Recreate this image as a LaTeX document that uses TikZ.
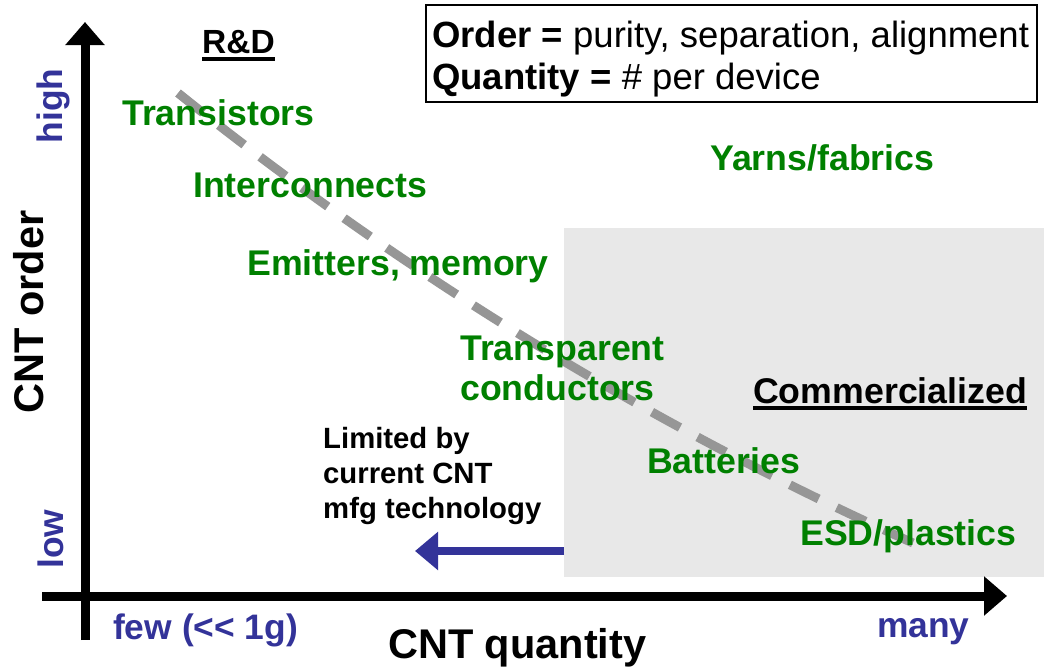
\documentclass[tikz,border=0pt]{standalone}
\usepackage{fontspec}
\setmainfont{Liberation Sans}
\usetikzlibrary{arrows.meta}
\definecolor{appgreen}{RGB}{0,128,0}
\definecolor{scaleblue}{RGB}{51,51,153}
\definecolor{marketgray}{RGB}{232,232,232}
\definecolor{trendgray}{RGB}{150,150,150}

\begin{document}
\begin{tikzpicture}[
  x=1pt, y=-1pt,
  app/.style={anchor=base west, inner sep=0pt, text=appgreen,
              font=\fontsize{35.7}{40}\selectfont\bfseries},
  stage/.style={anchor=base west, inner sep=0pt,
                font=\fontsize{35.7}{40}\selectfont\bfseries},
  note/.style={anchor=base west, inner sep=0pt,
               font=\fontsize{29.3}{35}\selectfont\bfseries},
  keyline/.style={anchor=base west, inner sep=0pt,
                  font=\fontsize{36.5}{42}\selectfont},
  tick/.style={inner sep=0pt, text=scaleblue,
               font=\fontsize{35.4}{40}\selectfont\bfseries},
  axislabel/.style={inner sep=0pt, font=\fontsize{41.5}{46}\selectfont\bfseries},
  axis/.style={line width=9pt, -{Triangle[length=23pt, width=38pt]}},
  trend/.style={trendgray, line width=9pt, dash pattern=on 32pt off 20pt},
]
  \useasboundingbox (0,0) rectangle (1044,670);

  % commercial region
  \node[fill=marketgray, anchor=north west, inner sep=0pt,
        minimum width=480pt, minimum height=349pt] (market) at (564,228) {};

  % order vs quantity trend
  \coordinate (trendhi) at (178,93);
  \coordinate (trendlo) at (913,543);
  \draw[trend] (trendhi) .. controls (405,275) and (650,425) .. (trendlo);

  % axes
  \coordinate (yfoot) at (85,640);
  \coordinate (ytip) at (85,22);
  \coordinate (xfoot) at (42,596);
  \coordinate (xtip) at (1007,596);
  \draw[axis] (yfoot) -- (ytip);
  \draw[axis] (xfoot) -- (xtip);

  \node[axislabel, rotate=90, anchor=base] (ylab) at (43,312) {CNT order};
  \node[axislabel, anchor=base west] (xlab) at (388,658) {CNT quantity};
  \node[tick, rotate=90, anchor=base] (yhigh) at (62,106) {high};
  \node[tick, rotate=90, anchor=base] (ylow) at (63,539) {low};
  \node[tick, anchor=base west] (xfew) at (113,639) {few (<\kern0pt< 1g)};
  \node[tick, anchor=base west] (xmany) at (877,637) {many};

  % legend box
  \draw[line width=1.5pt] (426,5) rectangle (1037,102);
  \node[keyline] (key1) at (432,47) {\textbf{Order =} purity, separation, alignment};
  \node[keyline] (key2) at (432,89) {\textbf{Quantity =} \# per device};

  % stages
  \node[stage, font=\fontsize{33.5}{38}\selectfont\bfseries] (rd) at (202,53) {R\&D};
  \draw[line width=4pt] ([yshift=-6pt]rd.base west) -- ([yshift=-6pt]rd.base east);
  \node[stage] (comm) at (753,403) {Commercialized};
  \draw[line width=4pt] ([yshift=-5pt]comm.base west) -- ([yshift=-5pt]comm.base east);

  % applications
  \node[app] (trans) at (122,125) {Transistors};
  \node[app] (inter) at (193,197) {Interconnects};
  \node[app] (emit) at (247,275) {Emitters, memory};
  \node[app] (tcond1) at (460,360) {Transparent};
  \node[app] (tcond2) at (460,400) {conductors};
  \node[app] (yarn) at (710,170) {Yarns/fabrics};
  \node[app] (batt) at (647,473) {Batteries};
  \node[app] (esd) at (800,545) {ESD/plastics};

  % manufacturing limit
  \node[note] (lim1) at (323,448) {Limited by};
  \node[note] (lim2) at (323,483) {current CNT};
  \node[note] (lim3) at (323,518) {mfg technology};
  \coordinate (limtip) at (415,551);
  \draw[scaleblue, line width=8pt, -{Triangle[length=23pt, width=37pt]}]
    (limtip -| market.west) -- (limtip);
\end{tikzpicture}
\end{document}
